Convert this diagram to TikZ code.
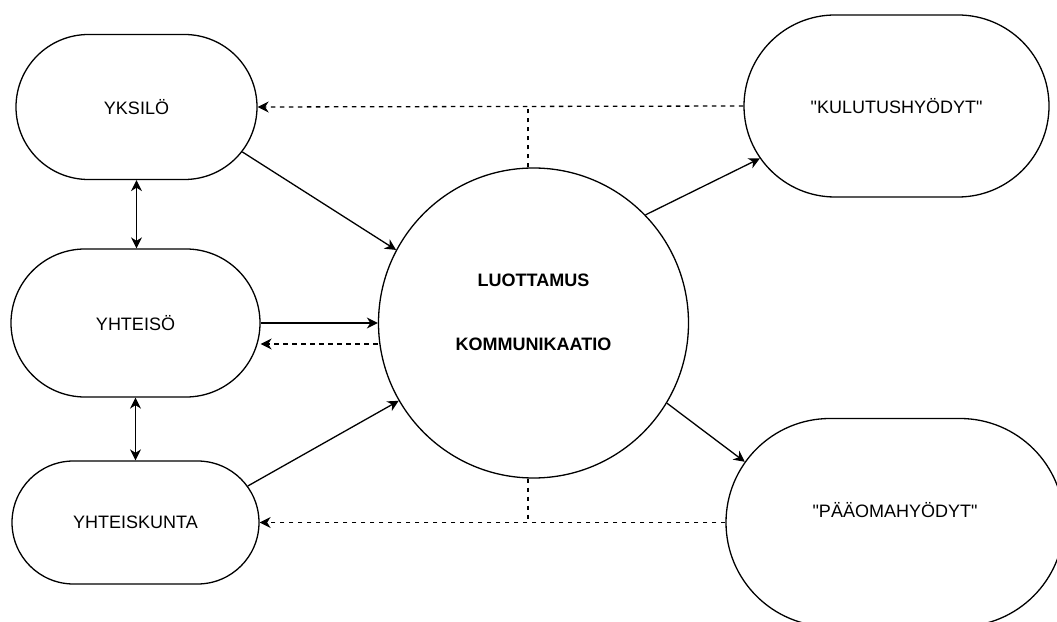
\documentclass[tikz,border=0pt]{standalone}
\usepackage{fontspec}
\newfontfamily\diafont{Liberation Sans}
\usetikzlibrary{arrows.meta, shapes.misc}
\tikzset{
  box/.style={rounded rectangle, draw, line width=1.3pt, inner sep=0pt,
    font=\diafont\fontsize{18}{21.6}\selectfont},
  link/.style={line width=1.3pt, ->},
  back/.style={link, dash pattern=on 4.5pt off 4.5pt},
  tie/.style={line width=1.3pt, dash pattern=on 4.5pt off 4.5pt},
}

\begin{document}
\begin{tikzpicture}[x=1pt, y=1pt, >={Stealth[length=11pt,width=11pt,inset=3.5pt]}]
\useasboundingbox (0,0) rectangle (1057,621);
\clip (0,0) rectangle (1057,621);
%left boxes
\node[box, minimum width=241pt, minimum height=145pt] (yks) at (136.5,514) {YKSILÖ};
\node[box, minimum width=249pt, minimum height=148pt] (yht) at (135.5,298) {YHTEISÖ};
\node[box, minimum width=247pt, minimum height=123pt] (ykun) at (135.5,98.5) {YHTEISKUNTA};
%centre
\node[circle, draw, line width=1.3pt, minimum size=310pt, inner sep=0pt, align=center,
  font=\diafont\bfseries\fontsize{18}{21.6}\selectfont, text depth=21.6pt] (lc) at (533.5,298)
  {LUOTTAMUS\\[43.2pt]KOMMUNIKAATIO};
%right boxes
\node[box, minimum width=305pt, minimum height=182pt] (kul) at (896.5,515) {"KULUTUSHYÖDYT"};
\node[box, minimum width=338pt, minimum height=208pt, text depth=26pt] (paa) at (895,98.5) {"PÄÄOMAHYÖDYT"};

%solid links
\draw[link] (yks.-23) -- (lc.152);
\draw[link] (yht.east) -- (lc.west);
\draw[link] (ykun.18) -- (lc.210);
\draw[link] (lc.44) -- (kul.201);
\draw[link] (lc.-31) -- (paa.158);
\draw[link, <->] (yks.south) -- (yks.south |- yht.north);
\draw[link, <->] (yht.south) -- (yht.south |- ykun.north);

%dashed feedback
\draw[back] (kul.west) -- (yks.east);
\draw[tie] (lc.92) -- (lc.92 |- kul.west);
\draw[back] ([yshift=-21pt]lc.west) -- ([yshift=-21pt]yht.east);
\draw[back] (paa.west) -- (ykun.east);
\draw[tie] (lc.268) -- (lc.268 |- paa.west);
\end{tikzpicture}
\end{document}
